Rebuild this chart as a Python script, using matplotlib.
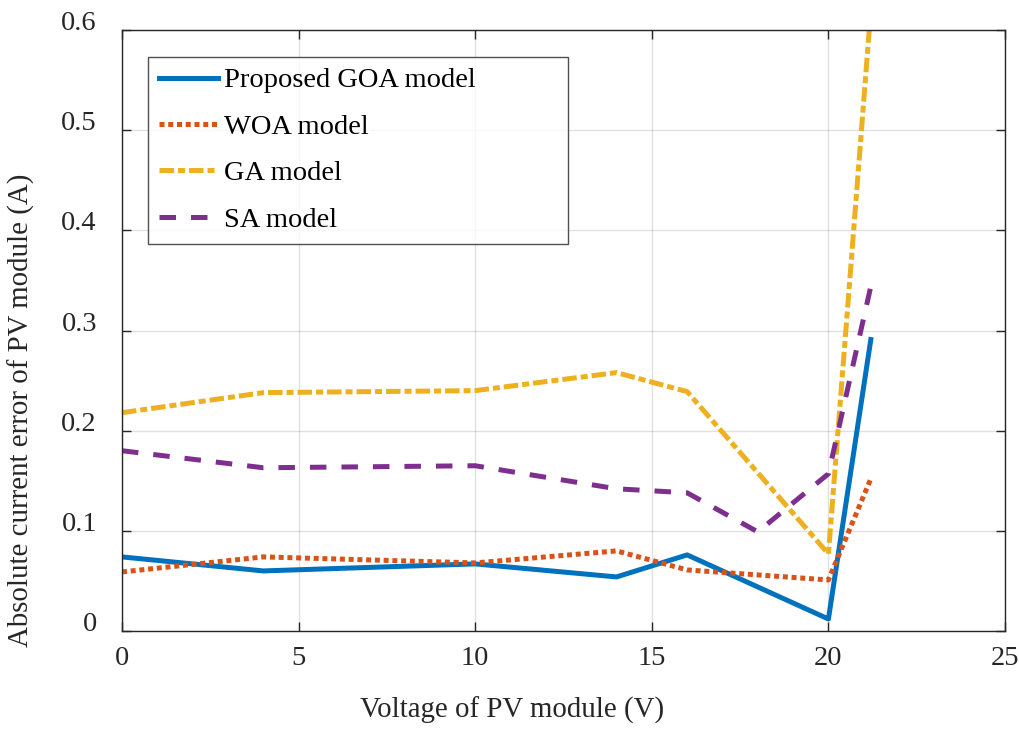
import numpy as np
import matplotlib.pyplot as plt
from matplotlib.transforms import ScaledTranslation

plt.rcParams['font.family'] = ['Liberation Serif', 'DejaVu Serif']

# Data
v_main = [0, 4, 10, 14, 16, 20, 21.2]
v_sa = [0, 4, 10, 14, 16, 18, 20, 21.2]
err_goa = [0.074, 0.060, 0.067, 0.054, 0.076, 0.012, 0.291]
err_woa = [0.059, 0.074, 0.068, 0.080, 0.061, 0.051, 0.152]
err_ga = [0.218, 0.238, 0.240, 0.258, 0.239, 0.077, 0.62]
err_sa = [0.180, 0.163, 0.165, 0.142, 0.138, 0.099, 0.157, 0.344]

xticks = [0, 5, 10, 15, 20, 25]
yticks = [0, 0.1, 0.2, 0.3, 0.4, 0.5, 0.6]

fs = 20.5

fig = plt.figure(figsize=(10.19, 7.29), dpi=100)
ax = fig.add_axes([0.1197, 0.1344, 0.8666, 0.8244])

lw = 3.6
ax.plot(v_main, err_goa, color='#0072BD', lw=lw, label='Proposed GOA model')
ax.plot(v_main, err_woa, color='#D95319', lw=lw, dashes=(1.0, 0.75),
        dash_capstyle='butt', label='WOA model')
ax.plot(v_main, err_ga, color='#EDB120', lw=lw, dashes=(2.9, 0.8, 1.4, 0.8),
        dash_capstyle='butt', label='GA model')
ax.plot(v_sa, err_sa, color='#7E2F8E', lw=lw, dashes=(3.3, 3.0),
        dash_capstyle='butt', label='SA model')

ax.set_xlim(0, 25)
ax.set_ylim(0, 0.6)
ax.set_xticks(xticks)
ax.set_yticks(yticks)
ax.set_xticklabels([str(t) for t in xticks])
ax.set_yticklabels(['0'] + ['%.1f' % t for t in yticks[1:]])
for lab in ax.get_yticklabels():
    lab.set_verticalalignment('baseline')
# MATLAB puts the x tick labels a few pixels left of the ticks
shift = ScaledTranslation(-4 / 100, 0, fig.dpi_scale_trans)
for lab in ax.get_xticklabels():
    lab.set_transform(lab.get_transform() + shift)

ax.grid(True, color='#000000', alpha=0.12, lw=1.0)
ax.tick_params(direction='in', length=6.5, width=1.0, labelsize=fs,
               top=True, right=True, colors='#262626')
ax.tick_params(axis='x', pad=11)
ax.tick_params(axis='y', pad=18)
for s in ax.spines.values():
    s.set_color('#262626')
    s.set_linewidth(1.0)

ax.set_xlabel('Voltage of PV module (V)', fontsize=20.8, color='#262626')
ax.xaxis.set_label_coords(0.4422, -0.109)
ax.set_ylabel('Absolute current error of PV module (A)', fontsize=20.8, color='#262626')
ax.yaxis.set_label_coords(-0.099, 0.368)

leg = ax.legend(loc='upper left', bbox_to_anchor=(0.030, 0.5, 0.475, 0.4556),
                mode='expand', fontsize=fs, frameon=True, fancybox=False,
                handlelength=2.07, handletextpad=0.21, labelspacing=0.72,
                borderpad=0.38, borderaxespad=0)
leg.get_frame().set_edgecolor('#262626')
leg.get_frame().set_linewidth(1.0)

plt.savefig('out.png', dpi=100)
